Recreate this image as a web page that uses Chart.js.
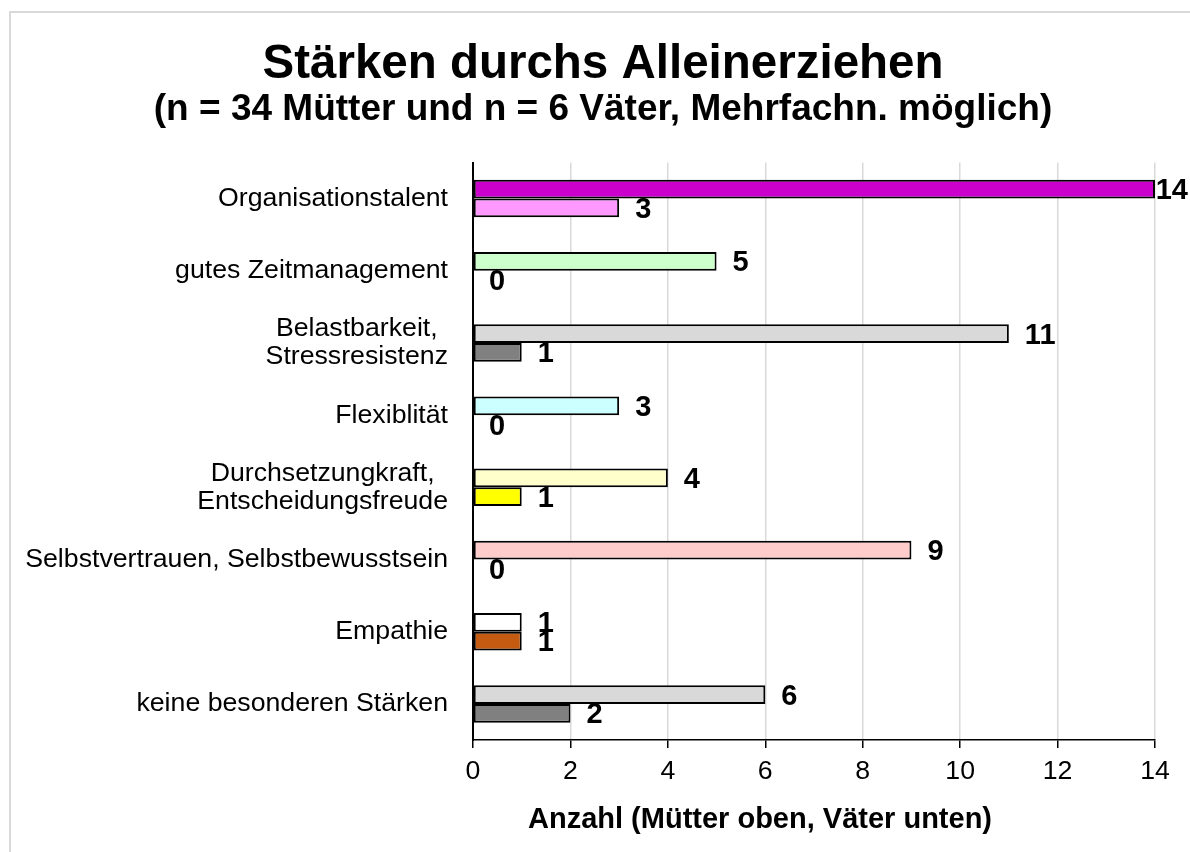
<!DOCTYPE html>
<html><head><meta charset="utf-8">
<script src="https://cdn.jsdelivr.net/npm/chart.js@4"></script>
<style>
html,body{margin:0;padding:0;background:#fff;overflow:hidden}
#wrap{position:relative;width:1190px;height:852px;overflow:hidden}
#frame{position:absolute;left:9px;top:11px;width:1300px;height:1000px;border:2px solid #d9d9d9;box-sizing:border-box}
canvas{position:absolute;left:0;top:0}
</style></head>
<body><div id="wrap"><div id="frame"></div><canvas id="c" width="1190" height="852"></canvas></div>
<script>
const categories = ['Organisationstalent', 'gutes Zeitmanagement', ['Belastbarkeit,', 'Stressresistenz'], 'Flexiblität', ['Durchsetzungkraft,', 'Entscheidungsfreude'], 'Selbstvertrauen, Selbstbewusstsein', 'Empathie', 'keine besonderen Stärken'];
const muetter = [14, 5, 11, 3, 4, 9, 1, 6];
const vaeter = [3, 0, 1, 0, 1, 0, 1, 2];
const muetterColors = ['#CC00CC', '#CCFFCC', '#D9D9D9', '#CCFFFF', '#FFFFCC', '#FFCCCC', '#FFFFFF', '#D9D9D9'];
const vaeterColors = ['#FF99FF', '#FFFFFF', '#808080', '#FFFFFF', '#FFFF00', '#FFFFFF', '#C55A11', '#808080'];
const xMin = 0, xMax = 14, xStep = 2;
const titleText = 'Stärken durchs Alleinerziehen';
const subtitleText = '(n = 34 Mütter und n = 6 Väter, Mehrfachn. möglich)';
const xTitleText = 'Anzahl (Mütter oben, Väter unten)';

const FONT = '"Liberation Sans", Arial, sans-serif';

const catLabelPlugin = {
  id: 'catLabels',
  afterDraw(chart) {
    const ctx = chart.ctx, y = chart.scales.y;
    ctx.save();
    ctx.font = '26.7px ' + FONT;
    ctx.fillStyle = '#000';
    ctx.textAlign = 'center';
    ctx.textBaseline = 'middle';
    const right = y.right - 25, lh = 28;
    categories.forEach((lab, i) => {
      const lines = Array.isArray(lab) ? lab : [lab];
      const w = Math.max(...lines.map(l => ctx.measureText(l).width));
      const cx = right - w / 2;
      const cy = y.getPixelForTick(i);
      lines.forEach((l, k) => {
        ctx.fillText(l, cx, cy + (k - (lines.length - 1) / 2) * lh);
      });
    });
    ctx.font = 'bold 29px ' + FONT;
    ctx.fillText(xTitleText, 760, 820);
    ctx.restore();
  }
};

const valueLabelPlugin = {
  id: 'valueLabels',
  afterDatasetsDraw(chart) {
    const ctx = chart.ctx;
    ctx.save();
    ctx.font = 'bold 29px ' + FONT;
    ctx.fillStyle = '#000';
    ctx.textAlign = 'left';
    ctx.textBaseline = 'middle';
    chart.data.datasets.forEach((ds, di) => {
      chart.getDatasetMeta(di).data.forEach((bar, i) => {
        const t = String(ds.data[i]);
        const w = ctx.measureText(t).width;
        const x = Math.min(bar.x + 16, chart.width - w - 2);
        ctx.fillText(t, x, bar.y + 2);
      });
    });
    ctx.restore();
  }
};

new Chart(document.getElementById('c'), {
  type: 'bar',
  data: {
    labels: categories,
    datasets: [
      { label: 'Mütter', data: muetter, backgroundColor: muetterColors, borderColor: '#000', borderWidth: 2, borderSkipped: false, categoryPercentage: 0.52, barPercentage: 1.0 },
      { label: 'Väter', data: vaeter, backgroundColor: vaeterColors, borderColor: '#000', borderWidth: 2, borderSkipped: false, categoryPercentage: 0.52, barPercentage: 1.0 }
    ]
  },
  options: {
    indexAxis: 'y',
    responsive: false,
    animation: false,
    devicePixelRatio: 1,
    layout: { padding: { left: 51, right: 35, top: 0, bottom: 0 } },
    plugins: {
      legend: { display: false },
      tooltip: { enabled: false },
      title: { display: true, text: titleText, color: '#000', font: { family: FONT, size: 47.5, weight: 'bold', lineHeight: 1.0 }, padding: { top: 41, bottom: 0 } },
      subtitle: { display: true, text: subtitleText, color: '#000', font: { family: FONT, size: 37, weight: 'bold', lineHeight: 1.0 }, padding: { top: 3, bottom: 34 } }
    },
    scales: {
      x: {
        min: xMin, max: xMax,
        ticks: { stepSize: xStep, color: '#000', font: { family: FONT, size: 26.7 }, padding: 8 },
        grid: { color: '#d9d9d9', lineWidth: 1.5, tickColor: '#000', tickLength: 8, drawTicks: true },
        border: { display: true, color: '#000', width: 1.5 },
        afterFit(s) { s.height = 112; }
      },
      y: {
        ticks: { display: false },
        grid: { display: false },
        border: { display: true, color: '#000', width: 2 },
        afterFit(s) { s.width = 422; }
      }
    }
  },
  plugins: [catLabelPlugin, valueLabelPlugin]
});
</script>
</body></html>
